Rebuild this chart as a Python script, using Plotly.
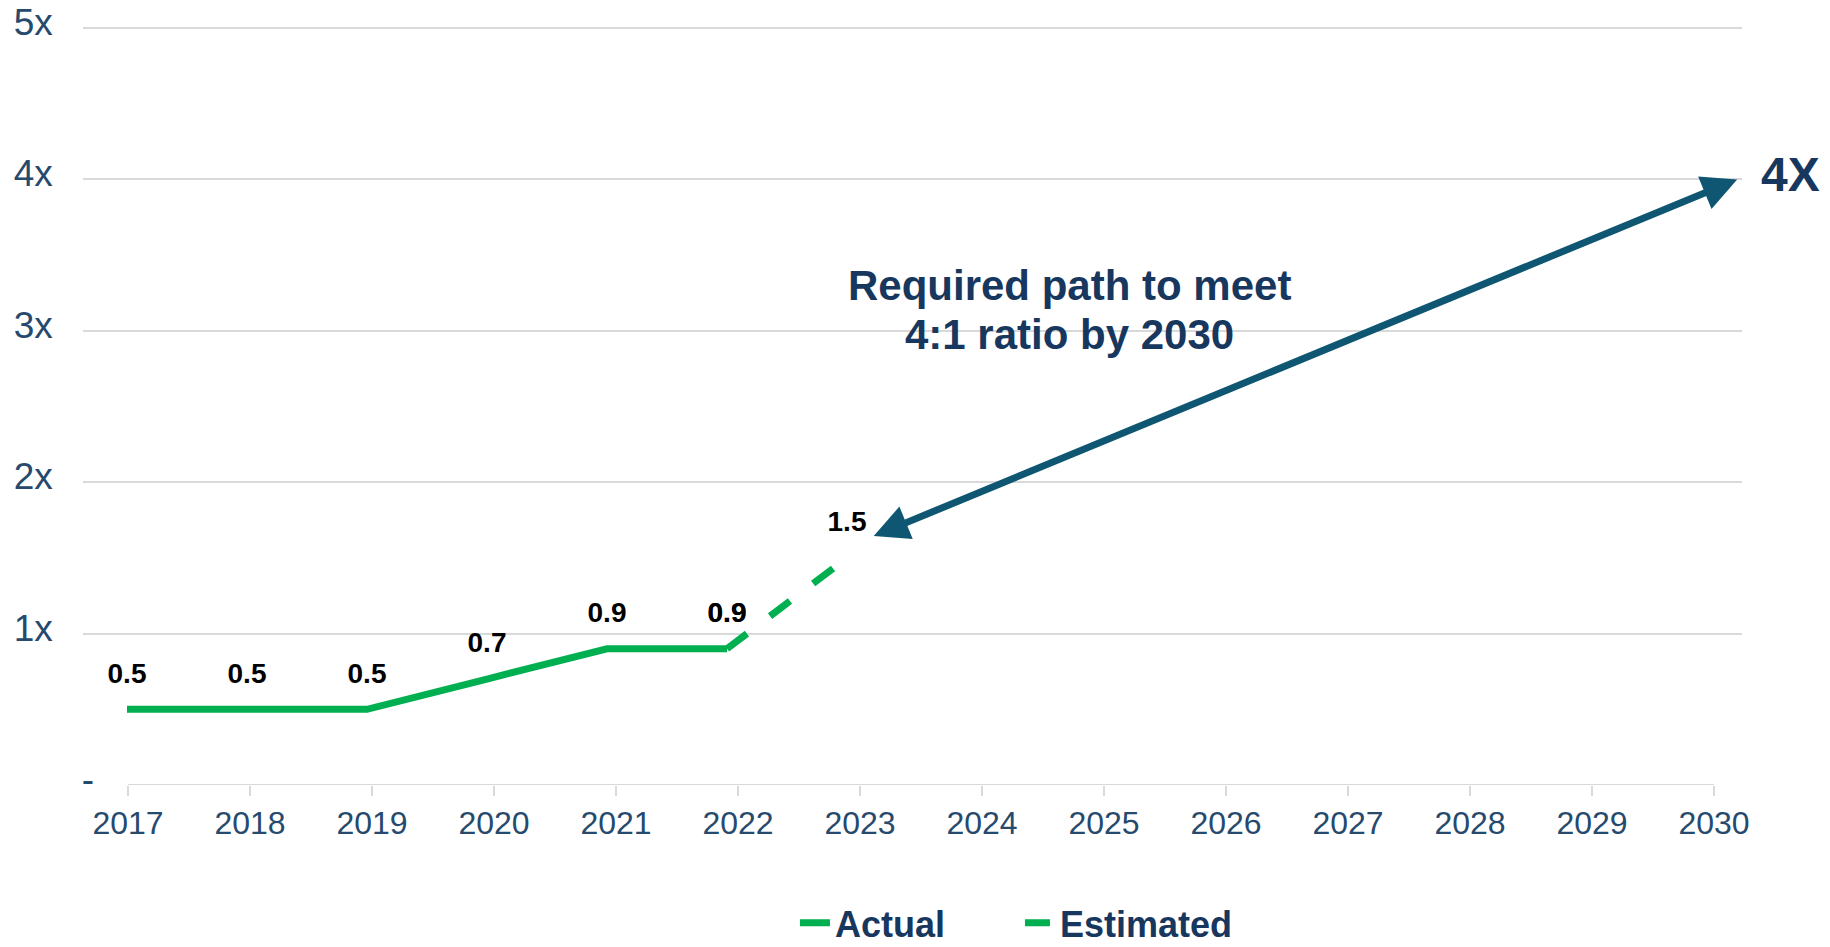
import plotly.graph_objects as go

# ---- data ----
years_axis = [2017, 2018, 2019, 2020, 2021, 2022, 2023, 2024, 2025, 2026, 2027, 2028, 2029, 2030]
year_labels = [str(y) for y in years_axis]

actual_years = [2017, 2018, 2019, 2020, 2021, 2022]
actual_vals = [0.5, 0.5, 0.5, 0.7, 0.9, 0.9]

est_years = [2022, 2023]
est_vals = [0.9, 1.5]

y_ticks = [0, 1, 2, 3, 4, 5]
NB = "\u00a0"
y_labels = ["-", "1x" + NB * 4, "2x" + NB * 4, "3x" + NB * 4, "4x" + NB * 4, "5x" + NB * 4]

# arrow (required path) endpoints in data coords
path_start = (2023.10, 1.64)
path_end = (2030.19, 4.0)
target_value = 4.0
path_text = ["Required path to meet", "4:1 ratio by 2030"]

GREEN = "#00b050"
NAVY = "#17375e"
TICK = "#264a6e"
GRID = "#d9d9d9"
ARROW = "#0e5672"
FONT = "Liberation Sans, Arial, sans-serif"

fig = go.Figure()

fig.add_trace(go.Scatter(
    x=actual_years, y=actual_vals, name="Actual", xaxis="x2",
    mode="lines+markers+text",
    line=dict(color=GREEN, width=7),
    marker=dict(size=30, color="rgba(0,0,0,0)"),
    text=[f"{v:.1f}" for v in actual_vals], textposition="top center",
    textfont=dict(family=FONT, size=28, color="black", weight="bold"),
    hoverinfo="skip", cliponaxis=False,
))
fig.add_trace(go.Scatter(
    x=est_years, y=est_vals, name="Estimated", xaxis="x2",
    mode="lines+markers+text",
    line=dict(color=GREEN, width=7, dash="25px,29px"),
    marker=dict(size=30, color="rgba(0,0,0,0)"),
    text=[f"{v:.1f}" for v in est_vals], textposition="top center",
    textfont=dict(family=FONT, size=28, color="black", weight="bold"),
    hoverinfo="skip", cliponaxis=False,
))

# x axis baseline from first to last category
fig.add_shape(type="line", xref="x", yref="y", x0=years_axis[0], x1=years_axis[-1], y0=0, y1=0,
              line=dict(color=GRID, width=2), layer="above")

fig.add_annotation(
    x=path_end[0], y=path_end[1], ax=path_start[0], ay=path_start[1],
    xref="x", yref="y", axref="x", ayref="y", text="",
    showarrow=True, arrowside="end+start", arrowhead=2, startarrowhead=2,
    arrowsize=1.0, startarrowsize=1.0, arrowwidth=7, arrowcolor=ARROW,
    standoff=0, startstandoff=0,
)
for txt, yy in zip(path_text, [3.298, 2.974]):
    fig.add_annotation(
        x=2024.72, y=yy, xref="x", yref="y", showarrow=False, text=txt,
        xanchor="center", yanchor="middle",
        font=dict(family=FONT, size=42, color=NAVY, weight="bold"),
    )
fig.add_annotation(
    x=1.0295, y=target_value + 0.03, xref="paper", yref="y", showarrow=False,
    xanchor="center", yanchor="middle",
    text=f"{target_value:.0f}X",
    font=dict(family=FONT, size=48, color=NAVY, weight="bold"),
)

fig.update_layout(
    width=1830, height=947,
    margin=dict(l=83, r=88, t=20, b=162, autoexpand=False),
    paper_bgcolor="white", plot_bgcolor="white",
    font=dict(family=FONT),
    showlegend=True,
    legend=dict(orientation="h", xref="container", yref="container",
                x=0.4344, y=0.0255, xanchor="left", yanchor="middle",
                font=dict(family=FONT, size=36, color=NAVY, weight="bold"),
                entrywidth=180, entrywidthmode="pixels", bgcolor="rgba(0,0,0,0)"),
    xaxis=dict(range=[2016.631, 2030.2295], tickvals=years_axis, ticktext=year_labels,
               showgrid=False, zeroline=False, showline=False, automargin=False,
               ticks="outside", ticklen=10, tickwidth=2, tickcolor=GRID,
               tickfont=dict(family=FONT, size=32, color=TICK)),
    xaxis2=dict(range=[2016.6333, 2030.4583], overlaying="x", visible=False),
    yaxis=dict(range=[0, 5.053], tickvals=y_ticks, ticktext=y_labels, automargin=False,
               showgrid=True, gridcolor=GRID, gridwidth=2,
               zeroline=True, zerolinecolor="white", zerolinewidth=3,
               showline=False, ticks="", ticklabelstandoff=-12, ticklabelshift=-6,
               tickfont=dict(family=FONT, size=37, color=TICK)),
)

fig.write_html("out.html")
